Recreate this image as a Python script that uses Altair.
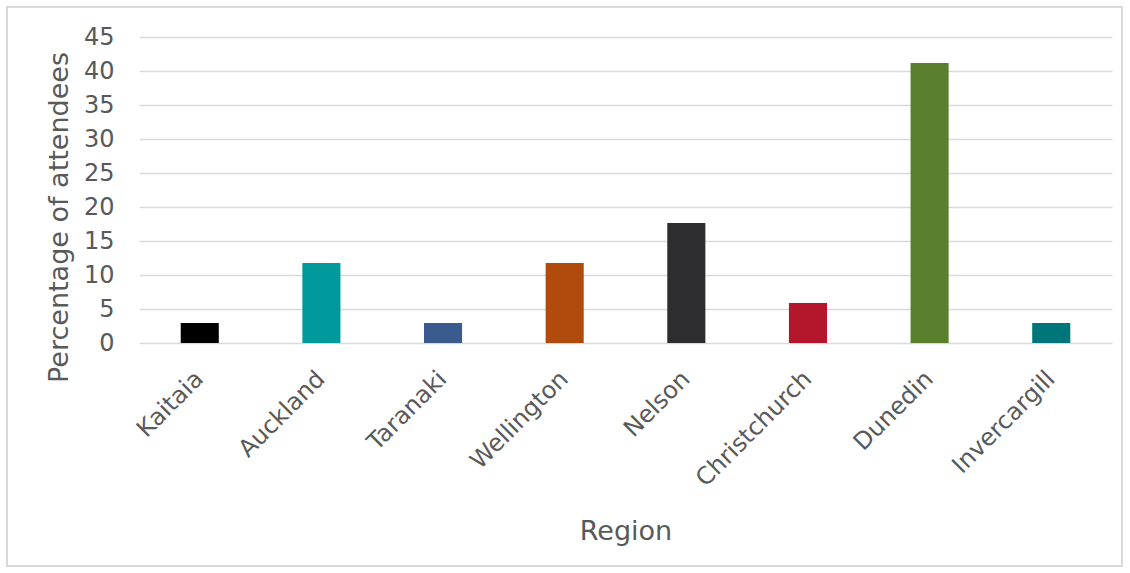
import altair as alt
import pandas as pd

regions = ["Kaitaia", "Auckland", "Taranaki", "Wellington", "Nelson", "Christchurch", "Dunedin", "Invercargill"]
values = [2.94, 11.76, 2.94, 11.76, 17.65, 5.88, 41.18, 2.94]
colors = ["#000000", "#00999C", "#3B5B8F", "#B04A0D", "#2D2D2F", "#B4172C", "#5A7F2F", "#00767A"]
y_ticks = [0, 5, 10, 15, 20, 25, 30, 35, 40, 45]

df = pd.DataFrame({"Region": regions, "Value": values, "Color": colors})

FONT = "DejaVu Sans"
GREY = "#595959"

bars = alt.Chart(df).mark_bar().encode(
    x=alt.X("Region:N", sort=regions,
            scale=alt.Scale(paddingInner=0.687, paddingOuter=0.343),
            axis=alt.Axis(title="Region", labelAngle=-45, labelAlign="right", labelBaseline="middle",
                          labelPadding=32, labelFontSize=24, labelColor=GREY, labelFont=FONT,
                          domain=False, ticks=False, grid=False,
                          titleFontSize=27, titleFont=FONT, titleColor=GREY, titleFontWeight="normal",
                          titleY=188, titleBaseline="middle")),
    y=alt.Y("Value:Q", scale=alt.Scale(domain=[0, 45], nice=False),
            axis=alt.Axis(title="Percentage of attendees", values=y_ticks, labelFontSize=24,
                          labelColor=GREY, labelFont=FONT, labelPadding=25,
                          domain=False, ticks=False, grid=True, gridColor="#D9D9D9", gridWidth=1.5,
                          titleFontSize=27, titleFont=FONT, titleColor=GREY, titleFontWeight="normal",
                          titleAngle=-90, titleX=-80, titleY=180, titleAlign="center",
                          titleBaseline="middle")),
    color=alt.Color("Color:N", scale=None),
)

border = alt.Chart(df).mark_rect(fill=None, stroke="#D9D9D9", strokeWidth=1.5, clip=False).encode(
    x=alt.value(-132), x2=alt.value(983), y=alt.value(-30), y2=alt.value(529)
)

chart = alt.layer(border, bars).properties(
    width=973, height=306,
    autosize=alt.AutoSizeParams(type="none"),
    padding={"left": 139, "top": 37, "right": 18, "bottom": 230},
    background="white",
).configure_view(stroke=None)

chart.save("out.html", embed_options={"renderer": "svg", "actions": False})
